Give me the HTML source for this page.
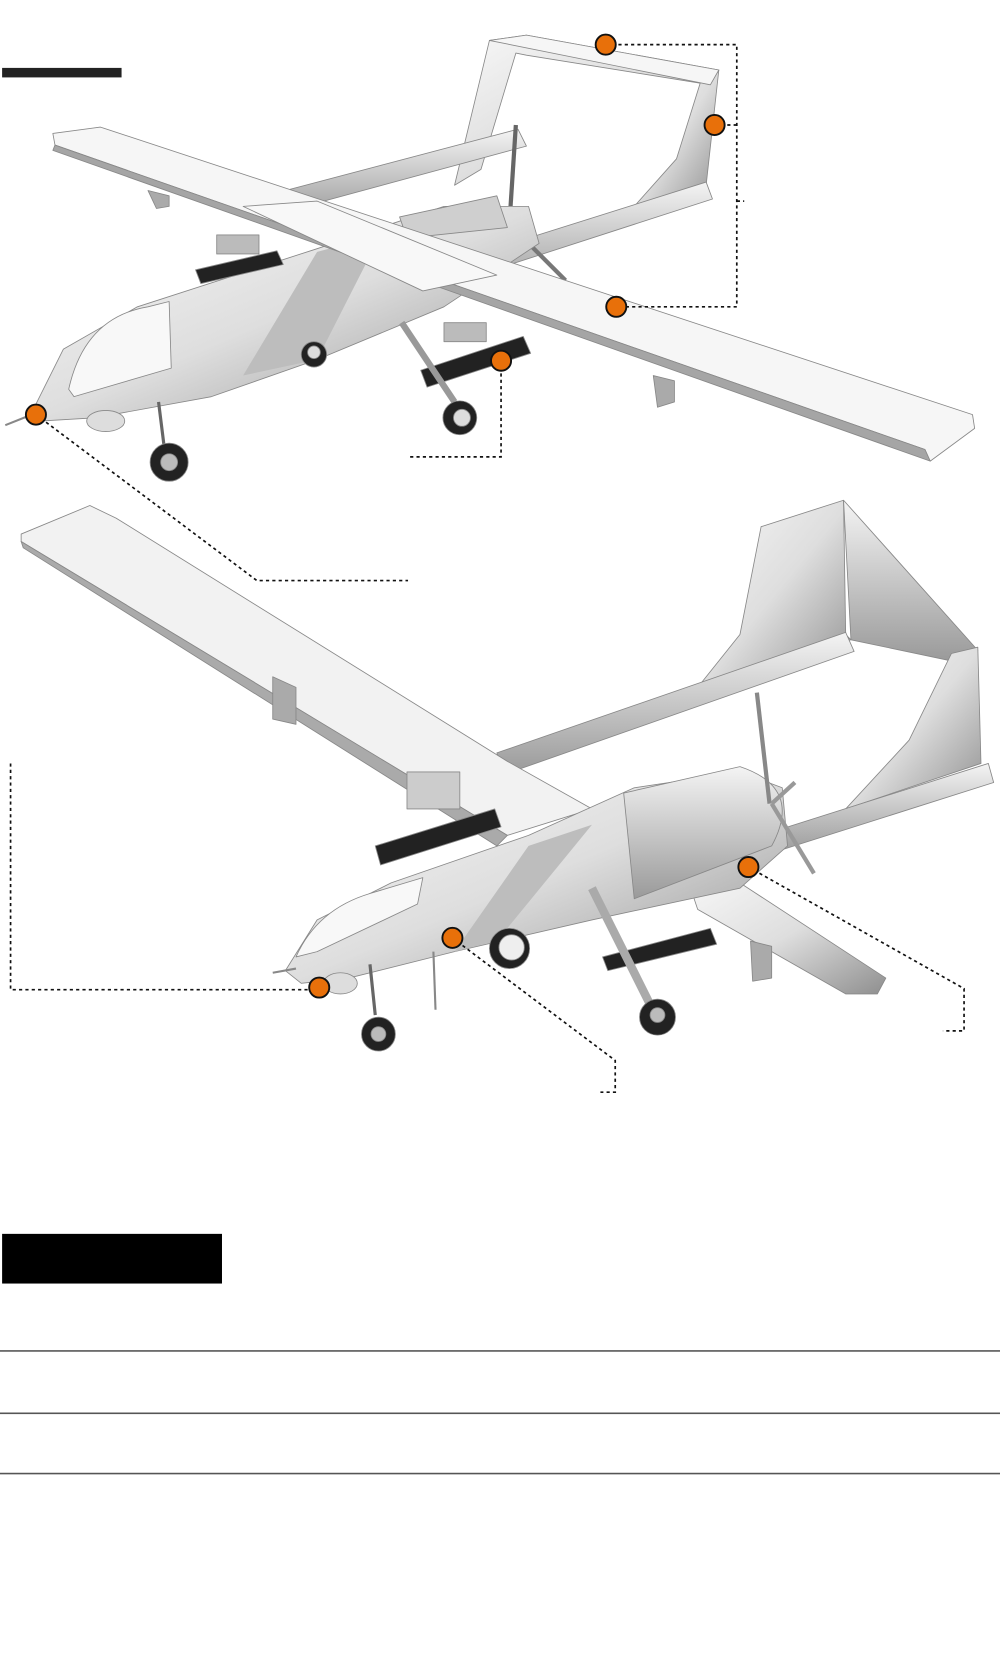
<!DOCTYPE html>
<html><head><meta charset="utf-8"><style>
html,body{margin:0;padding:0;background:#fff;width:1000px;height:1658px;overflow:hidden;font-family:"Liberation Sans",sans-serif}
svg{position:absolute;left:0;top:0}
</style></head><body>
<svg width="1000" height="1658" viewBox="0 0 946 1568" xmlns="http://www.w3.org/2000/svg">
<defs>
<linearGradient id="g1" x1="0" y1="0" x2="1" y2="1"><stop offset="0" stop-color="#f8f8f8"/><stop offset="0.5" stop-color="#dedede"/><stop offset="1" stop-color="#8f8f8f"/></linearGradient>
<linearGradient id="g2" x1="0" y1="0" x2="0" y2="1"><stop offset="0" stop-color="#f4f4f4"/><stop offset="1" stop-color="#9a9a9a"/></linearGradient>
</defs>
<g stroke="#888" stroke-width="0.8" stroke-linejoin="round">
<!-- PLANE 1 -->
<polygon points="463,38 498,33 680,66 672,80 498,52 488,50 455,160 430,175" fill="url(#g1)"/>
<polygon points="665,70 680,66 668,175 600,195 640,150" fill="url(#g1)"/>
<polygon points="463,38 498,33 680,66 672,80" fill="#f6f6f6"/>
<polygon points="232,190 490,122 498,138 240,208" fill="url(#g2)"/>
<polygon points="382,262 668,172 674,188 390,280" fill="url(#g2)"/>
<line x1="488" y1="118" x2="482" y2="210" stroke="#666" stroke-width="4"/>
<line x1="500" y1="230" x2="535" y2="265" stroke="#777" stroke-width="4"/>
<polygon points="30,390 60,330 130,290 300,235 420,195 500,195 510,230 420,290 300,340 200,375 90,395 40,398" fill="url(#g1)"/>
<polygon points="230,355 300,238 360,222 300,340" fill="#bdbdbd" stroke="none"/>
<path d="M65,368 Q80,300 140,290 L160,285 L162,348 L70,375 Z" fill="#f8f8f8"/>
<polygon points="378,205 470,185 480,215 385,225" fill="#cfcfcf"/>
<polygon points="50,126 95,120 920,392 922,405 880,436 875,425 52,137" fill="#f6f6f6"/>
<polygon points="52,137 875,425 880,436 50,142" fill="#a5a5a5"/>
<polygon points="230,195 300,190 470,260 400,275" fill="#f8f8f8"/>
<polygon points="140,180 160,185 160,195 148,197" fill="#aaa"/>
<polygon points="618,355 638,360 638,380 622,385" fill="#aaa"/>
<polygon points="185,255 262,237 268,250 190,268" fill="#222"/>
<polygon points="398,350 495,318 502,334 404,366" fill="#222"/>
<rect x="420" y="305" width="40" height="18" fill="#bbb"/>
<rect x="205" y="222" width="40" height="18" fill="#bbb"/>
<line x1="150" y1="380" x2="155" y2="420" stroke="#666" stroke-width="3"/>
<line x1="380" y1="305" x2="430" y2="380" stroke="#999" stroke-width="6"/>
<circle cx="160" cy="437" r="18" fill="#222"/><circle cx="160" cy="437" r="8" fill="#bbb"/>
<circle cx="435" cy="395" r="16" fill="#222"/><circle cx="437" cy="395" r="8" fill="#ddd"/>
<circle cx="297" cy="335" r="12" fill="#222"/><circle cx="297" cy="333" r="6" fill="#ddd"/>
<ellipse cx="100" cy="398" rx="18" ry="10" fill="#ddd"/>
<line x1="5" y1="402" x2="30" y2="392" stroke="#888" stroke-width="2"/>

<!-- PLANE 2 -->
<polygon points="720,498 798,473 800,600 805,605 660,650 700,600" fill="url(#g1)"/>
<polygon points="798,473 925,615 900,625 805,605" fill="url(#g2)"/>
<polygon points="900,618 925,612 928,722 800,765 860,700" fill="url(#g1)"/>
<polygon points="470,712 800,598 808,616 478,732" fill="url(#g2)"/>
<polygon points="720,790 935,722 940,740 726,808" fill="url(#g2)"/>
<polygon points="20,505 85,478 110,490 480,720 560,765 480,790 20,512" fill="#f2f2f2"/>
<polygon points="20,512 480,790 470,800 22,518" fill="#aaa"/>
<polygon points="258,640 280,650 280,685 258,680" fill="#aaa"/>
<polygon points="650,830 700,835 838,925 830,940 800,940 660,860" fill="url(#g1)"/>
<polygon points="710,890 730,895 730,925 712,928" fill="#aaa"/>
<polygon points="270,918 300,870 370,835 500,790 600,745 700,730 740,745 745,800 700,840 560,870 430,900 330,925 285,930" fill="url(#g1)"/>
<polygon points="430,900 500,800 560,780 470,890" fill="#bdbdbd" stroke="none"/>
<path d="M280,905 Q300,860 350,845 L400,830 L395,855 L300,900 Z" fill="#f8f8f8"/>
<path d="M590,750 L700,725 Q760,745 730,800 L600,850 Z" fill="url(#g2)"/>
<line x1="716" y1="655" x2="728" y2="760" stroke="#888" stroke-width="4"/>
<line x1="730" y1="760" x2="770" y2="826" stroke="#999" stroke-width="4"/>
<line x1="730" y1="760" x2="752" y2="740" stroke="#999" stroke-width="4"/>
<polygon points="355,800 468,765 474,782 360,818" fill="#222"/>
<polygon points="570,905 672,878 678,893 575,918" fill="#222"/>
<rect x="385" y="730" width="50" height="35" fill="#ccc"/>
<line x1="350" y1="912" x2="355" y2="960" stroke="#666" stroke-width="3"/>
<line x1="560" y1="840" x2="615" y2="950" stroke="#aaa" stroke-width="8"/>
<line x1="410" y1="900" x2="412" y2="955" stroke="#888" stroke-width="2"/>
<circle cx="358" cy="978" r="16" fill="#222"/><circle cx="358" cy="978" r="7" fill="#bbb"/>
<circle cx="622" cy="962" r="17" fill="#222"/><circle cx="622" cy="960" r="7" fill="#bbb"/>
<circle cx="482" cy="897" r="19" fill="#222"/><circle cx="484" cy="896" r="12" fill="#eee"/>
<ellipse cx="322" cy="930" rx="16" ry="10" fill="#ddd"/>
<line x1="258" y1="920" x2="280" y2="916" stroke="#888" stroke-width="2"/>
</g>

<g fill="none" stroke="#111" stroke-width="1.6" stroke-dasharray="3,3">
<polyline points="573,42 697,42 697,290 583,290"/>
<polyline points="676,118 697,118"/>
<polyline points="697,190 704,190"/>
<polyline points="474,341 474,432 386,432"/>
<polyline points="34,392 243,549 386,549"/>
<polyline points="10,722 10,936 302,936"/>
<polyline points="708,820 912,935 912,975 892,975"/>
<polyline points="428,887 582,1003 582,1033 568,1033"/>
</g>
<g fill="#e8700a" stroke="#111" stroke-width="1.8">
<circle cx="573" cy="42" r="9.5"/><circle cx="676" cy="118" r="9.5"/><circle cx="583" cy="290" r="9.5"/>
<circle cx="474" cy="341" r="9.5"/><circle cx="34" cy="392" r="9.5"/><circle cx="708" cy="820" r="9.5"/>
<circle cx="428" cy="887" r="9.5"/><circle cx="302" cy="934" r="9.5"/>
</g>

<rect x="2" y="64" width="113" height="9" fill="#222"/>
<rect x="2" y="1167" width="208" height="47" fill="#000"/>
<rect x="0" y="1277" width="946" height="1.5" fill="#555"/>
<rect x="0" y="1336" width="946" height="1.5" fill="#555"/>
<rect x="0" y="1393" width="946" height="1.5" fill="#555"/>
</svg>
</body></html>
